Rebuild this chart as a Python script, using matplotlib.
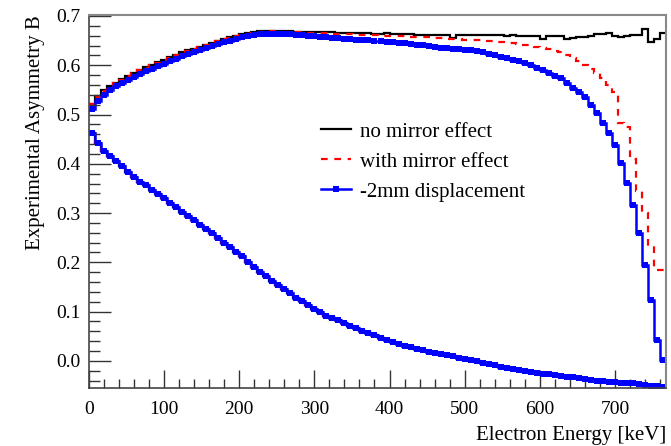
import numpy as np
import matplotlib
matplotlib.use("Agg")
import matplotlib.pyplot as plt
from matplotlib.lines import Line2D
from matplotlib.ticker import MultipleLocator

plt.rcParams['font.family'] = ['Liberation Serif', 'DejaVu Serif']

# Histogram binning: 96 bins of 8 keV
bin_edges = np.arange(0, 776, 8)

no_mirror = [
    0.522, 0.537, 0.549, 0.557, 0.565, 0.572, 0.579, 0.585, 0.591, 0.596,
    0.601, 0.606, 0.611, 0.616, 0.621, 0.626, 0.630, 0.634, 0.638, 0.642,
    0.646, 0.650, 0.654, 0.657, 0.660, 0.663, 0.665, 0.667, 0.669, 0.670,
    0.670, 0.670, 0.669, 0.669, 0.668, 0.668, 0.668, 0.667, 0.667, 0.668,
    0.667, 0.666, 0.666, 0.665, 0.665, 0.666, 0.665, 0.664, 0.664, 0.665,
    0.664, 0.663, 0.663, 0.664, 0.662, 0.662, 0.661, 0.661, 0.661, 0.662,
    0.655, 0.662, 0.661, 0.661, 0.662, 0.662, 0.662, 0.661, 0.661, 0.660,
    0.661, 0.660, 0.660, 0.660, 0.660, 0.653, 0.660, 0.659, 0.659, 0.654,
    0.655, 0.658, 0.658, 0.659, 0.663, 0.664, 0.665, 0.659, 0.658, 0.659,
    0.662, 0.661, 0.673, 0.647, 0.653, 0.666]

with_mirror = [
    0.521, 0.536, 0.548, 0.556, 0.564, 0.571, 0.578, 0.584, 0.590, 0.595,
    0.600, 0.605, 0.610, 0.615, 0.620, 0.625, 0.629, 0.633, 0.637, 0.641,
    0.645, 0.649, 0.653, 0.656, 0.659, 0.662, 0.664, 0.666, 0.668, 0.669,
    0.669, 0.669, 0.668, 0.668, 0.667, 0.667, 0.666, 0.666, 0.665, 0.665,
    0.664, 0.664, 0.663, 0.663, 0.662, 0.662, 0.661, 0.661, 0.660, 0.660,
    0.660, 0.659, 0.659, 0.658, 0.658, 0.657, 0.657, 0.656, 0.655, 0.654,
    0.653, 0.653, 0.652, 0.652, 0.651, 0.651, 0.650, 0.649, 0.648, 0.647,
    0.646, 0.644, 0.642, 0.641, 0.638, 0.635, 0.632, 0.629, 0.626, 0.620,
    0.615, 0.609, 0.600, 0.592, 0.584, 0.574, 0.560, 0.546, 0.483, 0.475,
    0.410, 0.345, 0.300, 0.233, 0.185, 0.185]

displaced = [
    0.512, 0.528, 0.540, 0.549, 0.557, 0.564, 0.571, 0.577, 0.583, 0.588,
    0.593, 0.598, 0.603, 0.608, 0.613, 0.618, 0.622, 0.627, 0.631, 0.635,
    0.639, 0.643, 0.647, 0.650, 0.654, 0.657, 0.660, 0.662, 0.663, 0.664,
    0.664, 0.664, 0.663, 0.663, 0.662, 0.661, 0.660, 0.659, 0.658, 0.657,
    0.656, 0.655, 0.654, 0.653, 0.652, 0.652, 0.651, 0.650, 0.649, 0.648,
    0.647, 0.646, 0.645, 0.644, 0.642, 0.641, 0.639, 0.637, 0.636, 0.635,
    0.634, 0.633, 0.631, 0.630, 0.628, 0.626, 0.623, 0.620, 0.617, 0.614,
    0.611, 0.608, 0.604, 0.600, 0.595, 0.590, 0.584, 0.579, 0.574, 0.564,
    0.553, 0.545, 0.536, 0.519, 0.503, 0.483, 0.462, 0.438, 0.401, 0.361,
    0.316, 0.260, 0.195, 0.124, 0.043, 0.002]

lower = [
    0.462, 0.443, 0.427, 0.416, 0.405, 0.395, 0.384, 0.374, 0.364, 0.356,
    0.347, 0.339, 0.330, 0.321, 0.313, 0.303, 0.294, 0.286, 0.276, 0.267,
    0.259, 0.249, 0.240, 0.231, 0.222, 0.212, 0.201, 0.191, 0.181, 0.172,
    0.163, 0.155, 0.146, 0.137, 0.128, 0.121, 0.113, 0.105, 0.099, 0.092,
    0.087, 0.082, 0.076, 0.071, 0.066, 0.061, 0.056, 0.052, 0.047, 0.043,
    0.039, 0.035, 0.031, 0.028, 0.025, 0.022, 0.019, 0.016, 0.013, 0.011,
    0.009, 0.006, 0.004, 0.002, -0.001, -0.004, -0.007, -0.009, -0.012, -0.015,
    -0.017, -0.019, -0.021, -0.023, -0.024, -0.026, -0.027, -0.029, -0.031, -0.032,
    -0.033, -0.035, -0.037, -0.039, -0.040, -0.041, -0.042, -0.043, -0.044, -0.045,
    -0.045, -0.047, -0.048, -0.050, -0.051, -0.053]

labels = ["no mirror effect", "with mirror effect", "-2mm displacement"]
x_title = "Electron Energy [keV]"
y_title = "Experimental Asymmetry B"

edges = np.array(bin_edges, dtype=float)
centers = 0.5 * (edges[:-1] + edges[1:])

W, H = 671, 446
fig = plt.figure(figsize=(W / 100, H / 100), dpi=100)
ax = fig.add_axes([89 / W, (H - 388) / H, 577 / W, 373 / H])

blue = '#0000ff'
red = '#ff0000'
dash = (0, (3, 3))

# lower curves (overlapping)
ax.stairs(lower, edges, color='black', lw=1.6, baseline=None)
ax.stairs(lower, edges, color=red, lw=1.6, ls=dash, baseline=None)
ax.stairs(lower, edges, color=blue, lw=1.8, baseline=None)
ax.plot(centers, lower, 's', color=blue, ms=4.3, mew=0)

# upper curves
ax.stairs(no_mirror, edges, color='black', lw=1.6, baseline=None)
ax.stairs(with_mirror, edges, color=red, lw=1.6, ls=dash, baseline=None)
ax.stairs(displaced, edges, color=blue, lw=1.8, baseline=None)
ax.plot(centers, displaced, 's', color=blue, ms=4.3, mew=0)

ax.set_xlim(0, 768)
ax.set_ylim(-0.055, 0.702)

ax.xaxis.set_major_locator(MultipleLocator(100))
ax.xaxis.set_minor_locator(MultipleLocator(20))
ax.yaxis.set_major_locator(MultipleLocator(0.1))
ax.yaxis.set_minor_locator(MultipleLocator(0.02))
ax.yaxis.set_major_formatter(matplotlib.ticker.FormatStrFormatter('%.1f'))

ax.tick_params(axis='both', which='both', direction='in', top=False, right=False,
               labelsize=14, colors='black')
ax.tick_params(axis='y', which='major', length=16, width=1, color='#333333', pad=6)
ax.tick_params(axis='y', which='minor', length=8, width=1, color='#333333')
ax.tick_params(axis='x', which='major', length=13, width=1, color='#333333', pad=9)
ax.tick_params(axis='x', which='minor', length=6.5, width=1, color='#333333')

for s in ['left', 'bottom']:
    ax.spines[s].set_color('#444444')
    ax.spines[s].set_linewidth(1.2)
for s in ['top', 'right']:
    ax.spines[s].set_color('#888888')
    ax.spines[s].set_linewidth(1.5)

ax.set_xlabel(x_title, fontsize=15, loc='right', labelpad=6)
ax.set_ylabel(y_title, fontsize=15, loc='top', labelpad=8)

handles = [
    Line2D([], [], color='black', lw=1.6),
    Line2D([], [], color=red, lw=1.6, ls=dash),
    Line2D([], [], color=blue, lw=1.8, marker='s', ms=4.3, mew=0),
]
leg = ax.legend(handles, labels, loc='upper left', bbox_to_anchor=(321 / W, 1 - 122 / H),
                bbox_transform=fig.transFigure, frameon=False, fontsize=15,
                handlelength=1.45, handletextpad=0.4, labelspacing=0.5,
                borderpad=0, borderaxespad=0)

fig.savefig('out.png', dpi=100)
